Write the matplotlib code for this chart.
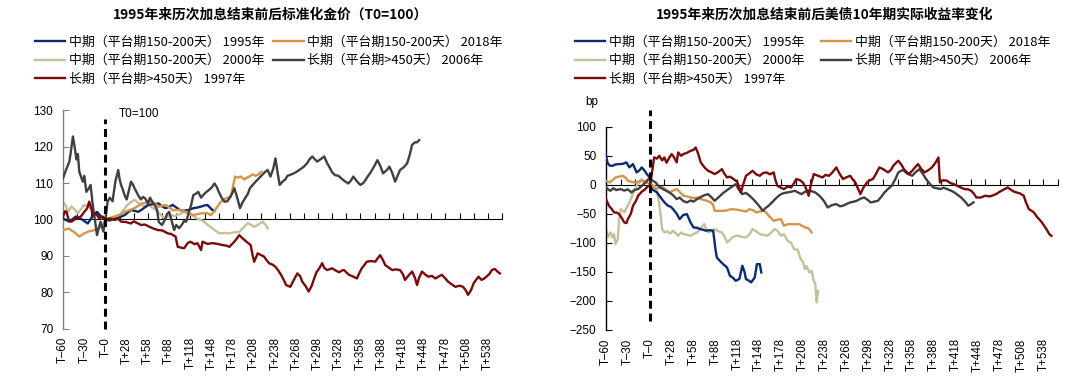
import matplotlib
matplotlib.use('Agg')
import matplotlib.pyplot as plt
import numpy as np

plt.rcParams['font.family'] = ['Liberation Sans', 'Noto Sans CJK SC', 'DejaVu Sans']
plt.rcParams['axes.unicode_minus'] = True
CJK = ['Noto Sans CJK SC', 'DejaVu Sans']

# ---------------- data ----------------
tick_labels = ['T–60', 'T–30', 'T–0', 'T+28', 'T+58', 'T+88', 'T+118', 'T+148', 'T+178',
               'T+208', 'T+238', 'T+268', 'T+298', 'T+328', 'T+358', 'T+388', 'T+418',
               'T+448', 'T+478', 'T+508', 'T+538']
series_labels = ['中期（平台期150-200天） 1995年', '中期（平台期150-200天） 2018年',
                 '中期（平台期150-200天） 2000年', '长期（平台期>450天） 2006年',
                 '长期（平台期>450天） 1997年']
t0_index = 60

# Left chart: normalized gold price (T0 = 100); x = trading-day index from T-60
gold_1995_x = [0, 9, 18, 27, 35, 42, 48, 54, 60, 66, 72, 77, 82, 87, 92, 96, 101, 106, 112, 120,
               127, 135, 140, 145, 150, 155, 160, 165, 170, 177, 184, 190, 194, 199, 204, 208, 211, 214]
gold_1995_y = [100.3, 99.4, 100.8, 100.0, 98.9, 101.0, 102.1, 100.8, 100.0, 99.8, 100.3, 100.3, 100.8,
               101.2, 102.0, 102.6, 102.4, 102.1, 102.8, 104.0, 104.2, 104.4, 103.6, 103.1, 103.5,
               104.0, 103.3, 102.6, 102.4, 102.6, 103.1, 103.3, 103.5, 103.8, 104.0, 103.2, 102.6, 102.4]

gold_2018_x = [0, 8, 16, 23, 30, 36, 45, 52, 57, 60, 66, 72, 80, 87, 94, 101, 106, 111, 118, 126,
               131, 135, 140, 145, 150, 155, 165, 174, 184, 190, 196, 203, 209, 214, 218, 223, 230,
               237, 240, 243, 247, 251, 256, 260, 263, 268, 272, 276, 280]
gold_2018_y = [97.1, 97.5, 96.5, 95.3, 96.2, 96.7, 97.1, 97.8, 98.9, 100.0, 100.4, 100.8, 101.3, 102.1,
               102.6, 103.1, 103.7, 104.4, 104.6, 104.9, 104.2, 103.5, 103.8, 104.0, 103.3, 102.6,
               102.6, 102.1, 101.2, 101.5, 101.7, 101.8, 101.2, 102.4, 103.5, 104.9, 105.8, 106.3,
               109.0, 111.8, 111.5, 111.8, 111.0, 111.5, 111.8, 112.4, 112.0, 112.4, 113.1]

gold_2000_x = [0, 4, 7, 12, 16, 21, 26, 30, 35, 40, 44, 47, 51, 54, 57, 60, 65, 70, 75, 80, 86, 91,
               96, 101, 106, 110, 116, 122, 128, 134, 138, 143, 148, 152, 158, 165, 171, 178, 185,
               190, 195, 200, 205, 211, 216, 221, 228, 235, 242, 249, 255, 261, 266, 270, 276, 282,
               286, 289]
gold_2000_y = [104.9, 103.8, 102.1, 103.6, 102.8, 101.7, 103.0, 104.0, 103.5, 103.1, 102.2, 101.2,
               100.8, 100.3, 100.6, 100.0, 99.5, 99.9, 100.6, 101.2, 102.8, 104.0, 104.8, 105.4,
               104.6, 104.0, 103.5, 103.8, 103.0, 102.1, 101.3, 100.3, 100.8, 101.2, 100.9, 101.5,
               102.1, 101.6, 100.8, 100.2, 99.9, 99.3, 98.4, 97.6, 96.8, 96.2, 96.3, 96.2, 96.5,
               96.6, 97.8, 99.0, 98.5, 98.0, 98.6, 99.4, 98.5, 97.6]

gold_2006_x = [0, 4, 9, 11, 14, 16, 19, 21, 23, 26, 28, 30, 33, 36, 39, 42, 45, 48, 50, 53, 55, 57,
               60, 63, 66, 70, 74, 78, 80, 82, 84, 87, 90, 93, 96, 99, 101, 104, 106, 110, 113, 116,
               120, 123, 126, 130, 133, 135, 138, 140, 144, 147, 150, 153, 157, 160, 164, 168, 171,
               174, 178, 181, 184, 187, 191, 195, 198, 202, 206, 210, 214, 217, 220, 224, 228, 232,
               235, 239, 242, 246, 250, 253, 257, 261, 264, 268, 272, 276, 281, 285, 289, 293, 297,
               300, 303, 306, 310, 314, 317, 320, 325, 330, 335, 340, 345, 348, 352, 356, 359, 364,
               369, 373, 376, 380, 384, 389, 393, 398, 403, 407, 410, 415, 420, 424, 427, 431, 435,
               440, 444, 448, 452, 457, 461, 465, 469, 473, 476, 481, 486, 490, 493, 497, 500, 503]
gold_2006_y = [111.3, 113.5, 115.9, 118.5, 122.8, 120.5, 116.5, 118.0, 113.1, 111.5, 110.4, 112.0,
               107.6, 108.4, 109.5, 104.0, 100.0, 95.7, 97.3, 99.4, 98.0, 96.7, 100.0, 104.9, 106.0,
               105.0, 110.5, 113.6, 111.0, 109.5, 108.5, 106.7, 105.5, 108.0, 110.4, 109.5, 108.6,
               107.5, 106.7, 105.5, 106.2, 105.8, 104.5, 106.0, 104.9, 103.8, 102.6, 99.4, 98.8,
               98.5, 100.0, 101.5, 102.1, 100.0, 97.1, 98.5, 97.6, 98.6, 99.6, 99.4, 102.1, 104.0,
               106.7, 107.0, 107.6, 106.0, 106.7, 107.5, 108.1, 108.8, 109.9, 109.0, 107.6, 106.0,
               104.9, 105.0, 105.8, 107.2, 108.6, 106.0, 103.1, 104.5, 105.8, 107.0, 108.6, 109.5,
               110.4, 111.2, 112.2, 113.0, 113.6, 111.8, 114.0, 116.8, 113.0, 109.5, 110.4, 111.0,
               112.0, 112.2, 112.6, 113.1, 113.8, 114.5, 115.5, 116.5, 117.3, 116.5, 115.9, 116.6,
               117.3, 115.5, 114.5, 113.0, 112.2, 112.0, 111.3, 110.5, 109.9, 110.8, 111.8, 110.5,
               109.5, 110.0, 110.8, 112.0, 113.1, 114.8, 116.3, 114.8, 112.7, 113.5, 114.5, 112.8,
               110.4, 112.2, 113.6, 114.3, 115.4, 118.0, 120.5, 121.2, 121.2, 121.8]

gold_1997_x = [0, 3, 5, 8, 12, 16, 21, 26, 30, 34, 37, 40, 42, 47, 51, 56, 60, 66, 73, 78, 82, 89,
               96, 100, 105, 110, 116, 122, 128, 134, 140, 148, 153, 159, 162, 166, 171, 176, 180,
               186, 190, 195, 197, 204, 211, 218, 225, 231, 235, 242, 249, 256, 261, 265, 268, 270,
               275, 280, 284, 288, 291, 296, 300, 304, 308, 312, 315, 321, 326, 331, 335, 338, 343,
               347, 351, 354, 358, 362, 366, 369, 373, 377, 380, 385, 390, 394, 397, 401, 404, 410,
               415, 419, 422, 426, 429, 435, 441, 445, 448, 452, 455, 460, 465, 470, 476, 480, 483,
               488, 493, 497, 500, 503, 507, 512, 516, 521, 526, 531, 535, 540, 544, 549, 554, 560,
               565, 569, 572, 576, 580, 584, 587, 591, 595, 598, 602, 606, 610, 614, 617]
gold_1997_y = [100.8, 102.3, 102.1, 99.8, 99.4, 100.0, 100.3, 101.0, 102.1, 103.0, 104.9, 103.0,
               101.2, 101.5, 100.4, 100.8, 100.0, 100.3, 99.9, 100.2, 99.4, 99.3, 98.9, 99.5, 99.0,
               98.5, 98.6, 98.0, 97.5, 97.1, 97.0, 96.2, 96.0, 95.3, 92.5, 92.3, 92.1, 93.5, 93.9,
               93.2, 93.5, 91.6, 93.9, 93.3, 93.5, 93.3, 93.0, 92.8, 92.5, 93.9, 95.7, 94.4, 93.6,
               93.0, 90.0, 88.4, 90.7, 90.2, 89.8, 88.7, 88.0, 87.6, 87.0, 86.0, 84.8, 83.3, 82.0,
               81.5, 83.4, 85.2, 84.4, 82.9, 81.6, 80.2, 81.7, 83.4, 85.5, 86.6, 88.0, 86.7, 86.1,
               86.4, 86.6, 86.0, 85.5, 86.0, 86.1, 85.3, 84.8, 84.3, 83.8, 85.5, 86.6, 87.6, 88.4,
               88.6, 88.4, 89.5, 90.2, 88.8, 87.5, 86.8, 86.1, 86.3, 86.1, 85.0, 83.4, 84.6, 85.7,
               84.0, 82.0, 84.0, 85.7, 84.8, 84.3, 84.5, 83.8, 84.4, 84.8, 83.8, 82.9, 82.2, 81.5,
               81.8, 81.5, 80.5, 79.3, 80.5, 82.5, 83.6, 84.3, 83.4, 83.8, 84.3, 85.0, 86.2, 86.4,
               85.6, 85.2]

# Right chart: change of US 10Y real yield (bp)
ry_1995_x = [0, 2, 5, 9, 13, 18, 23, 28, 32, 37, 42, 46, 49, 53, 56, 60, 63, 66, 70, 75, 80, 85,
             89, 92, 97, 101, 106, 111, 116, 120, 125, 129, 132, 137, 142, 147, 150, 152, 156, 161,
             166, 170, 174, 178, 183, 187, 190, 192, 196, 199, 204, 207, 211, 213]
ry_1995_y = [49.9, 38, 33, 32.7, 35, 35.6, 36, 38.5, 30, 35.6, 21.3, 25, 29.9, 24, 18.4, 12.6, -7.4,
             -10, -13.2, -21.8, -30, -36.1, -38, -41.9, -50, -59.1, -52, -50.5, -65, -73.4, -74,
             -76.3, -77, -79, -78, -79.1, -110, -125.1, -130.8, -137, -142.3, -156.7, -160, -165.3,
             -162, -139.4, -150, -162.4, -165, -168.1, -159.5, -136.6, -136.6, -150.9]

ry_2018_x = [0, 5, 9, 13, 18, 23, 27, 30, 35, 40, 45, 49, 55, 60, 64, 68, 73, 78, 83, 87, 92, 97,
             101, 106, 111, 116, 121, 126, 130, 137, 144, 147, 149, 155, 163, 168, 173, 180, 187,
             192, 197, 202, 206, 211, 216, 220, 223, 227, 230, 235, 240, 244, 249, 254, 260, 265,
             268, 273, 278, 282]
ry_2018_y = [6.9, 4, 8, 12.6, 14, 15.5, 12, 6.9, 5, 4, 5.5, 6.9, 4, 2.9, -3, -7.4, -5, -4.6, -9,
             -13.2, -10, -7.4, -12, -18.9, -20, -21.8, -23, -22, -24.6, -27, -30.4, -35, -44.7, -45,
             -44.7, -43, -41.9, -43, -44.7, -46, -41.9, -44, -47.6, -46, -44.7, -48, -53.3, -58,
             -62, -60, -59.1, -70.5, -68, -67.7, -68, -67.7, -70, -73.4, -75, -82]

ry_2000_x = [0, 3, 6, 9, 11, 13, 16, 18, 20, 23, 25, 28, 30, 34, 38, 42, 46, 49, 53, 57, 60, 63,
             66, 70, 72, 74, 77, 80, 84, 88, 92, 96, 99, 103, 106, 111, 116, 121, 125, 130, 135,
             137, 140, 145, 149, 154, 159, 163, 166, 170, 173, 178, 182, 187, 192, 197, 201, 206,
             211, 216, 221, 226, 231, 235, 240, 244, 249, 254, 258, 263, 267, 270, 273, 275, 279,
             282, 285, 287, 289, 291]
ry_2000_y = [-76.3, -90, -82, -90.6, -85, -102, -95, -60, -41.9, -45, -47.6, -40, -36.1, -25, -12,
             -1.7, 5, 9.8, 6, 4, 1.2, 0, -1.7, -13.2, -25, -41.9, -76.3, -82, -80, -84, -79.1, -84,
             -87.8, -82, -84.9, -86, -87.8, -84, -82, -74, -67.7, -75, -82, -80, -76.3, -80, -82,
             -90, -99.2, -95, -90.6, -88, -87.8, -90, -90.6, -85, -76.3, -80, -84.9, -86, -87.8,
             -83, -76.3, -79, -87.8, -85, -96.4, -100, -110.8, -112, -128, -132, -145.2, -140,
             -150.9, -148, -165.3, -170, -202.5, -182.5]

ry_2006_x = [0, 3, 6, 10, 14, 20, 25, 30, 35, 39, 44, 49, 54, 57, 60, 63, 68, 72, 78, 82, 87, 92,
             97, 101, 106, 111, 116, 120, 125, 130, 135, 140, 145, 149, 154, 159, 163, 168, 173,
             178, 182, 187, 192, 197, 202, 206, 211, 215, 219, 223, 228, 232, 236, 240, 245, 249,
             254, 259, 263, 268, 273, 278, 282, 287, 292, 297, 300, 304, 310, 316, 321, 325, 330,
             335, 340, 344, 349, 354, 359, 363, 368, 373, 378, 382, 387, 392, 397, 401, 406, 411,
             416, 420, 425, 430, 435, 439, 444, 449, 454, 459, 463, 468, 473, 478, 482, 487, 492,
             497, 501, 504]
ry_2006_y = [-4.6, -8, -10.3, -6, -9, -7.4, -10, -8, -13.2, -9, -7.4, -2, 4, 8, 12.6, 8, 4, -2,
             -7.4, -10, -13.2, -18, -24.6, -22, -28, -30.4, -27, -29, -24.6, -21, -18, -16.1, -22,
             -27.5, -22, -16.1, -12, -7.4, -3, 1.2, -8, -16.1, -14, -18.9, -25, -30.4, -38, -44.7,
             -40, -36.1, -30, -24.6, -20, -16.1, -14, -13.2, -12, -10.3, -13, -16.1, -12, -10.3,
             -11, -13.2, -18, -24.6, -30, -39, -35, -33.3, -37, -36.1, -33, -30.4, -29, -27.5,
             -24, -21.8, -26, -30.4, -29, -27.5, -20, -13.2, -7, -1.7, 10, 21.3, 25, 24.1, 18,
             15.5, 22, 27, 18, 9.8, 2, -4.6, -6, -7.4, -5, -7.4, -10, -13.2, -17, -21.8, -28,
             -36.1, -33, -30.4]

ry_1997_x = [0, 4, 8, 11, 15, 18, 22, 25, 28, 30, 34, 37, 41, 44, 49, 54, 57, 60, 63, 66, 70, 73,
             77, 80, 83, 86, 90, 93, 97, 99, 103, 106, 111, 116, 120, 123, 126, 130, 135, 140, 144,
             149, 154, 159, 162, 166, 170, 175, 180, 185, 188, 192, 197, 201, 206, 211, 215, 220,
             225, 230, 232, 235, 240, 244, 249, 254, 258, 261, 266, 270, 274, 278, 281, 285, 290,
             297, 301, 306, 311, 316, 320, 325, 330, 335, 338, 342, 345, 349, 353, 358, 362, 366,
             370, 375, 380, 387, 391, 394, 398, 401, 406, 411, 415, 420, 424, 428, 432, 437, 442,
             447, 452, 456, 458, 463, 468, 472, 477, 482, 487, 492, 497, 501, 505, 508, 514, 520,
             527, 535, 540, 546, 551, 556, 560, 563, 568, 573, 576, 580, 584, 587, 591, 594, 598,
             601, 605, 608, 611]
ry_1997_y = [-24.6, -36.1, -42, -47.6, -48, -50.5, -58, -64.8, -66, -59.1, -50, -36.1, -28, -18.9,
             -12, -7.4, -3, -1.7, 20, 47.1, 45, 49.9, 42, 47.1, 38, 45, 52.8, 48, 38.5, 55.7, 50,
             52.8, 55, 58.5, 60, 64.3, 55, 38.5, 30, 24.1, 22, 18.4, 22, 27, 20, 12.6, 14, 9.8, 5,
             -13.2, 0, 15.5, 20, 24.1, 18, 15.5, 20, 21.3, 18, 21.3, 10, -1.7, -5, -7.4, -3, -4.6,
             3, 9.8, 8, 4, -5, -18.9, 0, 18.4, 16, 12.6, 17, 15.5, 22, 29.9, 20, 9.8, 13, 15.5, 10,
             4, -5, -16.1, -5, 4, 8, 9.8, 18, 29.9, 27, 21.3, 26, 32.7, 38, 41.4, 33, 21.3, 18,
             24.1, 30, 35.6, 28, 21.3, 25, 29.9, 38, 47.1, 4, 8, 6.9, 3, 1.2, -2, -5, -7.4, -8,
             -10.3, -16, -21.8, -22, -18.9, -20, -16.1, -12, -8, -4.6, -9, -12, -13.2, -15, -18.9,
             -30, -41.9, -45, -47.6, -55, -59.1, -65, -70.5, -78, -84.9, -87.8]

colors = ['#0B2A6F', '#D39649', '#C3C09A', '#404040', '#7B0A0A']

# ---------------- figure ----------------
W, H = 1080, 379
fig = plt.figure(figsize=(W / 100, H / 100), dpi=100)


def fpos(x0, x1, ytop, ybot):
    return [x0 / W, 1 - ybot / H, (x1 - x0) / W, (ybot - ytop) / H]


axL = fig.add_axes(fpos(63, 502, 110.3, 328.7))
axR = fig.add_axes(fpos(606, 1058, 126.7, 330))

left_series = [(gold_1995_x, gold_1995_y), (gold_2018_x, gold_2018_y), (gold_2000_x, gold_2000_y),
               (gold_2006_x, gold_2006_y), (gold_1997_x, gold_1997_y)]
right_series = [(ry_1995_x, ry_1995_y), (ry_2018_x, ry_2018_y), (ry_2000_x, ry_2000_y),
                (ry_2006_x, ry_2006_y), (ry_1997_x, ry_1997_y)]
zorders = [3, 3, 2, 4, 5]


def draw(ax, series):
    handles = []
    for (xs, ys), c, z in zip(series, colors, zorders):
        h, = ax.plot(xs, ys, color=c, lw=1.7, zorder=z)
        handles.append(h)
    return handles


def style_axis(ax, ylim, yticks, base, spine_color, dash_top, dash_bottom):
    ax.set_xlim(0, 620)
    ax.set_ylim(*ylim)
    ax.set_yticks(yticks)
    for s in ['top', 'right', 'bottom']:
        ax.spines[s].set_visible(False)
    ax.spines['left'].set_color(spine_color)
    ax.spines['left'].set_linewidth(1.0)
    ax.tick_params(axis='y', direction='in', length=4, width=0.8, color=spine_color,
                   pad=7, labelsize=8.5)
    ax.set_xticks(np.arange(0, 30 * len(tick_labels), 30))
    ax.set_xticklabels(tick_labels, rotation=90, fontsize=8.3)
    ax.tick_params(axis='x', length=0, pad=6)
    loc = (base - ylim[0]) / (ylim[1] - ylim[0])
    sec = ax.secondary_xaxis(loc)
    sec.set_xticks(np.arange(0, 621, 20))
    sec.tick_params(axis='x', direction='out', length=4, width=0.8, labelbottom=False,
                    labeltop=False)
    sec.spines['bottom'].set_linewidth(1.0)
    ax.plot([t0_index, t0_index], [dash_bottom, dash_top], color='black', lw=2.2,
            ls=(0, (2.6, 1.6)), clip_on=False, zorder=6)


handlesL = draw(axL, left_series)
handlesR = draw(axR, right_series)
style_axis(axL, (70, 130), np.arange(70, 131, 10), 100, '#808080', 127.6, 70)
style_axis(axR, (-250, 100), np.arange(-250, 101, 50), 0, 'black', 129, -235)

axL.text(79, 129, 'T0=100', fontsize=8.5, va='center', ha='left')
fig.text(592 / W, 1 - 102.3 / H, 'bp', ha='center', va='center', fontsize=8.5)

fig.text(271 / W, 1 - 14.5 / H, '1995年来历次加息结束前后标准化金价（T0=100）', ha='center',
         va='center', fontsize=9.9, fontweight='bold', family=CJK)
fig.text(825 / W, 1 - 14.5 / H, '1995年来历次加息结束前后美债10年期实际收益率变化', ha='center',
         va='center', fontsize=9.9, fontweight='bold', family=CJK)

order = [0, 2, 4, 1, 3]
for handles, x0, colsp in [(handlesL, 34.5, 0.7), (handlesR, 574.5, 1.3)]:
    fig.legend([handles[i] for i in order], [series_labels[i] for i in order],
               loc='upper left', bbox_to_anchor=(x0 / W, 1 - 35.5 / H), ncol=2,
               frameon=False, prop={'family': CJK, 'size': 9.3}, handlelength=2.35,
               handletextpad=0.3, columnspacing=colsp, labelspacing=0.44,
               borderpad=0, borderaxespad=0)

fig.savefig('out.png', dpi=100)
